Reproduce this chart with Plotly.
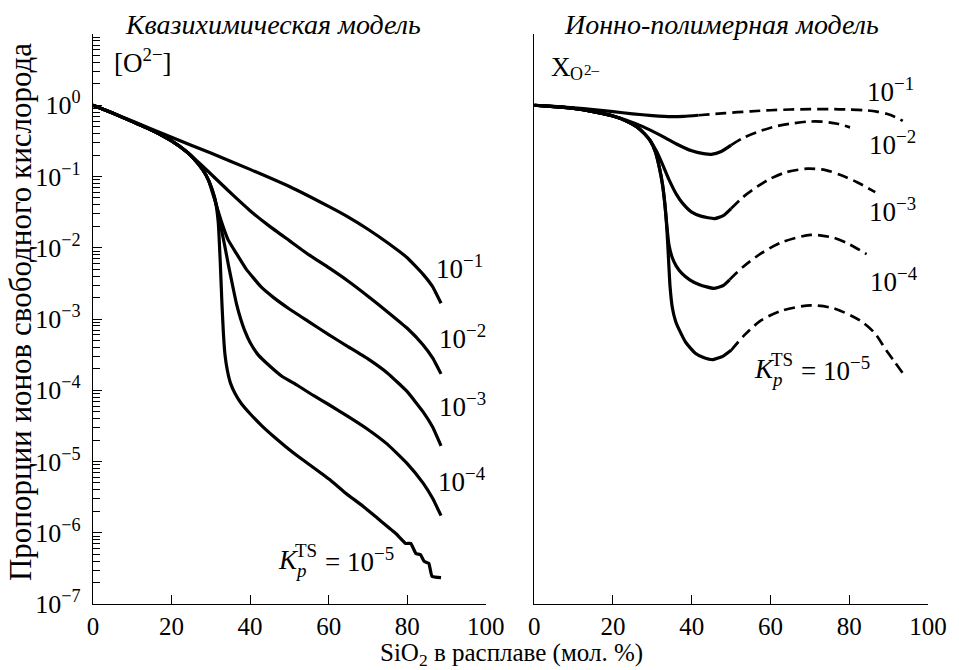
import plotly.graph_objects as go

FONT = "Liberation Serif"
MINUS = "\u2212"

# ---- Quasi-chemical model: SiO2 (mol.%) vs log10 of free-oxygen fraction ----
qc_k1_x = [0, 10, 20, 30, 40, 50, 60, 65, 70, 75, 80, 84, 86.5, 88.6]
qc_k1_lg = [0, -0.22, -0.45, -0.67, -0.9, -1.14, -1.42, -1.57, -1.74, -1.93, -2.14, -2.37, -2.55, -2.78]

qc_k2_x = [0, 5, 10, 15, 20, 24, 28, 32, 36, 40, 45, 50, 55, 60, 65, 70, 75, 80, 84, 86.5, 88.6]
qc_k2_lg = [0, -0.11, -0.23, -0.35, -0.5, -0.66, -0.86, -1.07, -1.28, -1.48, -1.7, -1.9, -2.1, -2.28, -2.47,
            -2.68, -2.9, -3.13, -3.36, -3.55, -3.77]

qc_k3_x = [0, 5, 10, 15, 20, 24, 26, 28, 29.4, 31, 32.5, 34.4, 36.5, 39, 42.8, 46, 50, 55, 60, 65, 70, 75, 80,
           84, 86.5, 88.6]
qc_k3_lg = [0, -0.11, -0.23, -0.35, -0.5, -0.66, -0.77, -0.91, -1.05, -1.33, -1.6, -1.89, -2.08, -2.3, -2.55,
            -2.7, -2.86, -3.04, -3.22, -3.39, -3.56, -3.76, -4.02, -4.3, -4.52, -4.78]

qc_k4_x = [0, 5, 10, 15, 20, 24, 26, 28, 29.4, 30.3, 31.1, 32, 32.8, 33.6, 34.5, 35.5, 36.5, 37.6, 38.6, 40, 42,
           45, 48, 52, 56, 60, 65, 70, 75, 80, 84, 86.5, 88.6]
qc_k4_lg = [0, -0.11, -0.23, -0.35, -0.5, -0.66, -0.77, -0.91, -1.05, -1.18, -1.33, -1.55, -1.77, -1.99, -2.25,
            -2.52, -2.78, -3.0, -3.16, -3.33, -3.5, -3.66, -3.8, -3.93, -4.07, -4.2, -4.37, -4.55, -4.76, -5.03,
            -5.3, -5.52, -5.76]

qc_k5_x = [0, 5, 10, 15, 20, 24, 26, 28, 29.4, 30.3, 31.1, 31.9, 32.4, 32.8, 33.2, 33.6, 34.2, 35, 36.2, 37.8,
           40, 43, 46, 49, 52, 56, 60.4, 64, 68.8, 72.5, 77.1, 79.6, 80.9, 82.2, 83.4, 84.3, 85.5, 86.3, 88.6]
qc_k5_lg = [0, -0.11, -0.23, -0.35, -0.5, -0.66, -0.77, -0.91, -1.05, -1.18, -1.33, -1.65, -2.2, -2.75, -3.2,
            -3.5, -3.72, -3.9, -4.05, -4.19, -4.33, -4.5, -4.65, -4.79, -4.92, -5.08, -5.26, -5.43, -5.63,
            -5.8, -6.01, -6.15, -6.15, -6.29, -6.31, -6.4, -6.43, -6.61, -6.63]

# ---- Ion-polymer model: computed part (solid) and extrapolation (dashed) ----
ip_k1_x = [0, 5, 10, 15, 20, 25, 30, 35, 38, 41.7]
ip_k1_lg = [0, -0.015, -0.035, -0.06, -0.09, -0.12, -0.145, -0.16, -0.155, -0.14]
ip_k1_ext_x = [41.7, 48.5, 55, 60, 65, 70, 75, 80, 84, 87, 89.5, 91.5, 93.6]
ip_k1_ext_lg = [-0.14, -0.11, -0.085, -0.07, -0.06, -0.055, -0.055, -0.06, -0.07, -0.09, -0.12, -0.16, -0.22]

ip_k2_x = [0, 5, 10, 15, 20, 23.4, 27.6, 32, 36, 40, 43, 45, 47.5, 50]
ip_k2_lg = [0, -0.02, -0.045, -0.09, -0.15, -0.21, -0.30, -0.42, -0.54, -0.64, -0.68, -0.69, -0.65, -0.56]
ip_k2_ext_x = [50, 53, 57, 61, 65, 69.4, 73, 77, 80.2]
ip_k2_ext_lg = [-0.56, -0.46, -0.37, -0.30, -0.26, -0.23, -0.23, -0.26, -0.31]

ip_k3_x = [0, 5, 10, 15, 20, 23.4, 26, 28, 29.5, 31, 32.5, 34.2, 36, 37.6, 40, 42.5, 45.8, 48, 50]
ip_k3_lg = [0, -0.02, -0.045, -0.09, -0.15, -0.22, -0.3, -0.4, -0.5, -0.64, -0.82, -1.04, -1.24, -1.37, -1.5,
            -1.56, -1.59, -1.55, -1.45]
ip_k3_ext_x = [50, 53, 56.7, 60, 64, 69.4, 74, 77.8, 82, 86.6]
ip_k3_ext_lg = [-1.45, -1.29, -1.14, -1.03, -0.94, -0.89, -0.91, -0.98, -1.08, -1.22]

ip_k4_x = [0, 5, 10, 15, 20, 23.4, 26, 28, 29.5, 30.8, 31.8, 32.6, 33.2, 33.7, 34.2, 35, 36, 37.5, 39.5, 42,
           45.6, 48, 49.6]
ip_k4_lg = [0, -0.02, -0.045, -0.09, -0.15, -0.22, -0.3, -0.4, -0.5, -0.66, -0.88, -1.12, -1.4, -1.7, -1.95,
            -2.13, -2.25, -2.36, -2.45, -2.52, -2.57, -2.53, -2.45]
ip_k4_ext_x = [49.6, 53, 57.6, 63, 70.2, 76, 80, 84.4]
ip_k4_ext_lg = [-2.45, -2.27, -2.08, -1.92, -1.82, -1.86, -1.95, -2.09]

ip_k5_x = [0, 5, 10, 15, 20, 23.4, 26, 28, 29.5, 30.8, 31.8, 32.6, 33.2, 33.7, 34.1, 34.5, 35.1, 35.9, 36.9,
           38.5, 40.9, 43, 45.4, 48, 50]
ip_k5_lg = [0, -0.02, -0.045, -0.09, -0.15, -0.22, -0.3, -0.4, -0.5, -0.66, -0.88, -1.12, -1.4, -1.75, -2.15,
            -2.55, -2.85, -3.03, -3.16, -3.33, -3.48, -3.54, -3.57, -3.52, -3.44]
ip_k5_ext_x = [50, 53.5, 57.6, 63, 70.2, 76, 82.7, 86.5, 89.4, 91.5, 93.6]
ip_k5_ext_lg = [-3.44, -3.22, -3.02, -2.88, -2.81, -2.85, -3.02, -3.2, -3.44, -3.6, -3.76]

# Axis ticks
x_ticks = [0, 20, 40, 60, 80, 100]
y_exponents = [-7, -6, -5, -4, -3, -2, -1, 0]

LINE_W = 3.2


def to_val(lg):
    return [10 ** v for v in lg]


fig = go.Figure()

qc_series = [(qc_k1_x, qc_k1_lg), (qc_k2_x, qc_k2_lg), (qc_k3_x, qc_k3_lg),
             (qc_k4_x, qc_k4_lg), (qc_k5_x, qc_k5_lg)]
for xs, lg in qc_series:
    fig.add_trace(go.Scatter(x=xs, y=to_val(lg), mode="lines", xaxis="x", yaxis="y",
                             line=dict(color="black", width=LINE_W, shape="spline", smoothing=0.35),
                             showlegend=False, hoverinfo="skip"))

ip_series = [(ip_k1_x, ip_k1_lg, ip_k1_ext_x, ip_k1_ext_lg),
             (ip_k2_x, ip_k2_lg, ip_k2_ext_x, ip_k2_ext_lg),
             (ip_k3_x, ip_k3_lg, ip_k3_ext_x, ip_k3_ext_lg),
             (ip_k4_x, ip_k4_lg, ip_k4_ext_x, ip_k4_ext_lg),
             (ip_k5_x, ip_k5_lg, ip_k5_ext_x, ip_k5_ext_lg)]
for xs, lg, xe, lge in ip_series:
    fig.add_trace(go.Scatter(x=xs, y=to_val(lg), mode="lines", xaxis="x2", yaxis="y2",
                             line=dict(color="black", width=LINE_W, shape="spline", smoothing=0.5),
                             showlegend=False, hoverinfo="skip"))
    fig.add_trace(go.Scatter(x=xe, y=to_val(lge), mode="lines", xaxis="x2", yaxis="y2",
                             line=dict(color="black", width=2.7, dash="11px,6px", shape="spline", smoothing=0.8),
                             showlegend=False, hoverinfo="skip"))

y_tickvals = [10 ** e for e in y_exponents] + [10]
y_ticktext = [f"10<sup>{MINUS}{-e}</sup>" if e < 0 else "10<sup>0</sup>" for e in y_exponents] + [""]
minor_vals = [k * 10 ** e for e in y_exponents for k in range(2, 10)]

axis_font = dict(family=FONT, size=26, color="black")

x_common = dict(range=[0, 100], tickmode="array", tickvals=x_ticks, ticktext=[str(v) for v in x_ticks],
                ticks="inside", ticklen=9, tickwidth=1.2, tickcolor="black",
                showline=True, linecolor="black", linewidth=1.3, showgrid=False, zeroline=False,
                tickfont=dict(family=FONT, size=25, color="black"), ticklabelstandoff=0)

fig.update_layout(
    width=959, height=670,
    margin=dict(l=93, r=20, t=34, b=66),
    paper_bgcolor="white", plot_bgcolor="white",
    font=dict(family=FONT, color="black"),
    xaxis=dict(x_common, domain=[0, 0.4704], anchor="y"),
    xaxis2=dict(x_common, domain=[0.5284, 1], anchor="y2"),
    yaxis=dict(type="log", range=[-7, 1], tickmode="array", tickvals=y_tickvals, ticktext=y_ticktext,
               ticks="inside", ticklen=9, tickwidth=1.2, tickcolor="black",
               minor=dict(tickmode="array", tickvals=minor_vals, ticks="inside", ticklen=7,
                          tickwidth=1.1, tickcolor="black", showgrid=False),
               showline=True, linecolor="black", linewidth=1.3, showgrid=False, zeroline=False,
               tickfont=axis_font, ticklabelstandoff=6, anchor="x"),
    yaxis2=dict(type="log", range=[-7, 1], ticks="", showticklabels=False,
                showline=True, linecolor="black", linewidth=1.3, showgrid=False, zeroline=False,
                anchor="x2"),
)

ann = []


def label(text, xref, yref, x, y, size=27, xshift=0, yshift=0, xanchor="left", italic=False):
    ann.append(dict(text=f"<i>{text}</i>" if italic else text, xref=xref, yref=yref, x=x, y=y,
                    xanchor=xanchor, yanchor="middle", xshift=xshift, yshift=yshift, showarrow=False,
                    font=dict(family=FONT, size=size, color="black")))


# Panel titles
label("Квазихимическая модель", "paper", "paper", 0.0355, 1.0175, size=28, italic=True)
label("Ионно-полимерная модель", "paper", "paper", 0.5615, 1.0175, size=28, italic=True)

# Axis titles
ann.append(dict(text="Пропорции ионов свободного кислорода", xref="paper", yref="paper",
                x=-0.0875, y=0.512, textangle=-90, showarrow=False, xanchor="center", yanchor="middle",
                font=dict(family=FONT, size=31, color="black")))
ann.append(dict(text="SiO<sub>2</sub> в расплаве (мол. %)", xref="paper", yref="paper",
                x=0.501, y=-0.0885, showarrow=False, xanchor="center", yanchor="middle",
                font=dict(family=FONT, size=25, color="black")))

# Quantity labels
label(f"[O<sup>2{MINUS}</sup>]", "x", "y", 4.8, 0.62, size=27)
label("X", "x2", "y2", 3.76, 0.54, size=27)
label("O", "x2", "y2", 3.76, 0.54, size=18, xshift=19, yshift=-7)
label("2\u2013", "x2", "y2", 3.76, 0.54, size=15, xshift=33, yshift=-3)

# Curve labels, left panel
for xd, yd, e in [(86.7, -2.27, 1), (87.7, -3.25, 2), (87.7, -4.21, 3), (87.2, -5.26, 4)]:
    label(f"10<sup>{MINUS}{e}</sup>", "x", "y", xd, yd)
# Curve labels, right panel
for xd, yd, e in [(84.0, 0.21, 1), (84.5, -0.53, 2), (84.5, -1.47, 3), (84.7, -2.45, 4)]:
    label(f"10<sup>{MINUS}{e}</sup>", "x2", "y2", xd, yd)


def kp_label(xref, yref, xd, yd):
    label("K", xref, yref, xd, yd, size=27, italic=True)
    label("p", xref, yref, xd, yd, size=19, xshift=17, yshift=-11, italic=True)
    label("TS", xref, yref, xd, yd, size=19, xshift=17, yshift=9)
    label(f"= 10<sup>{MINUS}5</sup>", xref, yref, xd, yd, size=27, xshift=47)


kp_label("x", "y", 46.5, -6.38)
kp_label("x2", "y2", 55.4, -3.70)

fig.update_layout(annotations=ann)

fig.write_html("out.html")
